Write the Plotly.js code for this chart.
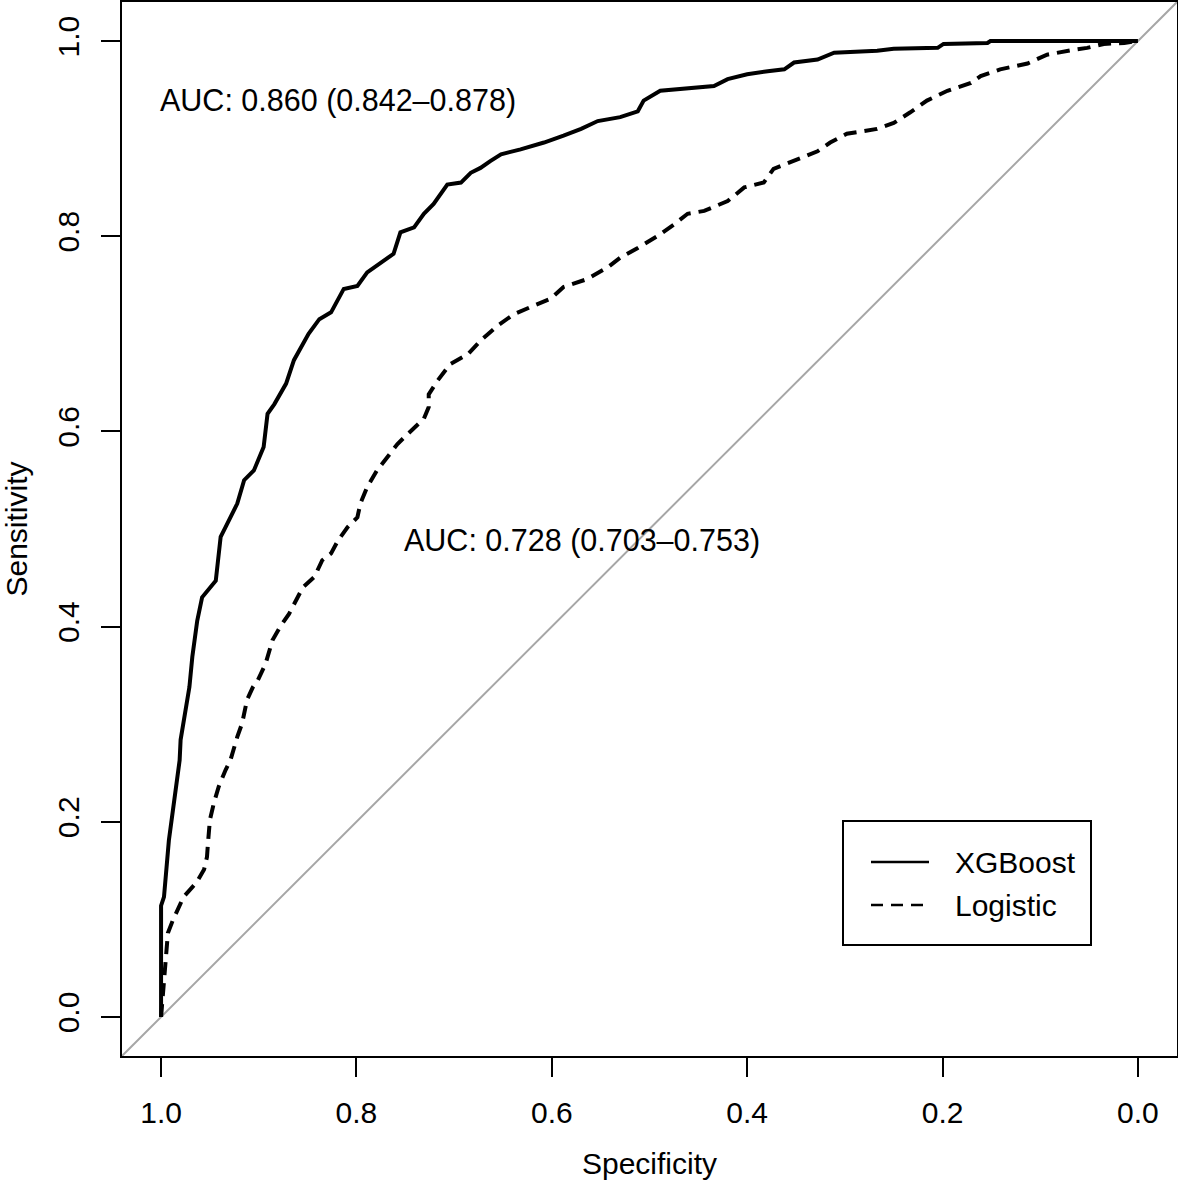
<!DOCTYPE html>
<html>
<head>
<meta charset="utf-8">
<script src="https://cdn.plot.ly/plotly-3.0.1.min.js"></script>
<style>html,body{margin:0;padding:0;background:#fff;}#chart{width:1178px;height:1184px;}</style>
</head>
<body>
<div id="chart"></div>
<script>
// ROC curve data (specificity, sensitivity)
const xgbSpec = [1.000,1.000,0.997,0.992,0.981,0.980,0.971,0.968,0.963,0.958,0.944,0.939,0.934,0.922,0.915,0.905,0.895,0.891,0.884,0.872,0.864,0.857,0.849,0.838,0.826,0.813,0.799,0.789,0.772,0.762,0.755,0.741,0.731,0.721,0.707,0.693,0.683,0.673,0.663,0.652,0.632,0.608,0.588,0.570,0.553,0.530,0.512,0.506,0.489,0.461,0.434,0.420,0.400,0.379,0.362,0.352,0.328,0.311,0.267,0.250,0.205,0.199,0.154,0.151,0.000];
const xgbSens = [0.000,0.114,0.123,0.181,0.263,0.284,0.338,0.369,0.406,0.430,0.447,0.492,0.502,0.526,0.550,0.560,0.584,0.618,0.628,0.649,0.673,0.686,0.700,0.715,0.722,0.746,0.749,0.763,0.775,0.782,0.804,0.809,0.823,0.833,0.853,0.855,0.865,0.870,0.877,0.884,0.889,0.896,0.903,0.910,0.918,0.922,0.928,0.939,0.949,0.952,0.954,0.961,0.966,0.969,0.971,0.978,0.981,0.988,0.990,0.992,0.993,0.997,0.998,1.000,1.000];

const logSpec = [1.000,0.997,0.995,0.993,0.988,0.982,0.977,0.968,0.963,0.956,0.953,0.952,0.950,0.946,0.941,0.934,0.929,0.922,0.917,0.912,0.906,0.901,0.893,0.886,0.878,0.869,0.862,0.855,0.843,0.835,0.826,0.819,0.809,0.799,0.796,0.789,0.779,0.768,0.758,0.751,0.741,0.731,0.726,0.726,0.717,0.704,0.686,0.673,0.656,0.639,0.618,0.601,0.588,0.564,0.543,0.530,0.512,0.492,0.475,0.461,0.444,0.420,0.403,0.383,0.373,0.352,0.328,0.315,0.298,0.267,0.250,0.233,0.216,0.195,0.171,0.161,0.141,0.113,0.093,0.066,0.052,0.035,0.014,0.000];
const logSens = [0.000,0.038,0.065,0.086,0.099,0.113,0.123,0.133,0.139,0.151,0.164,0.178,0.202,0.219,0.236,0.253,0.263,0.287,0.301,0.325,0.338,0.345,0.362,0.386,0.400,0.413,0.427,0.440,0.451,0.468,0.475,0.488,0.502,0.512,0.526,0.543,0.560,0.574,0.587,0.594,0.604,0.613,0.625,0.638,0.652,0.669,0.679,0.693,0.708,0.720,0.729,0.736,0.748,0.756,0.768,0.778,0.788,0.800,0.812,0.823,0.826,0.836,0.850,0.855,0.869,0.877,0.887,0.896,0.905,0.910,0.916,0.927,0.939,0.949,0.957,0.964,0.971,0.977,0.986,0.991,0.993,0.997,0.998,1.000];

const seriesNames = ["XGBoost", "Logistic"];
const seriesDash = ["solid", "13px,8px"];
const aucLabels = ["AUC: 0.860 (0.842\u20130.878)", "AUC: 0.728 (0.703\u20130.753)"];
const aucPosSpec = [1.0, 0.75];
const aucPosSens = [0.939, 0.488];
const xTickVals = [1.0, 0.8, 0.6, 0.4, 0.2, 0.0];
const xTickText = ["1.0", "0.8", "0.6", "0.4", "0.2", "0.0"];
const yTickVals = [0.0, 0.2, 0.4, 0.6, 0.8, 1.0];
const yTickText = ["0.0", "0.2", "0.4", "0.6", "0.8", "1.0"];
const xRange = [1.04, -0.04];
const yRange = [-0.04, 1.04];

const FONT = "Liberation Sans, Arial, Helvetica, sans-serif";
const FS = 30;

const W = 1178, H = 1184;
const M = {l: 122, r: 1, t: 2, b: 128};
const PW = W - M.l - M.r, PH = H - M.t - M.b;
const px2x = p => (p - M.l) / PW;
const px2y = p => 1 - (p - M.t) / PH;

const diagX = [xRange[0], xRange[1]];
const diagY = diagX.map(v => 1 - v);

const traces = [
  {x: diagX, y: diagY, mode: "lines", line: {color: "#a6a6a6", width: 2}, showlegend: false, hoverinfo: "skip"},
  {x: xgbSpec, y: xgbSens, mode: "lines", name: seriesNames[0], line: {color: "#000", width: 4, dash: seriesDash[0]}, showlegend: false},
  {x: logSpec, y: logSens, mode: "lines", name: seriesNames[1], line: {color: "#000", width: 4, dash: seriesDash[1]}, showlegend: false}
];

const annotations = aucLabels.map((t, i) => ({
  x: aucPosSpec[i], y: aucPosSens[i], xref: "x", yref: "y", text: t, showarrow: false,
  xanchor: "left", yanchor: "middle", xshift: -3, font: {family: FONT, size: 30.5, color: "#000"}
}));

// legend box (drawn as shapes + annotations to match R's legend layout)
const legRowY = [862, 905];
const shapes = [
  {type: "rect", xref: "paper", yref: "paper", x0: px2x(843), x1: px2x(1091), y0: px2y(945), y1: px2y(821),
   line: {color: "#000", width: 2}, fillcolor: "#fff", layer: "above"}
];
seriesNames.forEach((n, i) => {
  shapes.push({type: "line", xref: "paper", yref: "paper", x0: px2x(871), x1: px2x(929), y0: px2y(legRowY[i]), y1: px2y(legRowY[i]),
    line: {color: "#000", width: 2.5, dash: i === 0 ? "solid" : "12px,8px"}, layer: "above"});
  annotations.push({x: px2x(953), y: px2y(legRowY[i]), xref: "paper", yref: "paper", text: n, showarrow: false,
    xanchor: "left", yanchor: "middle", font: {family: FONT, size: FS, color: "#000"}});
});

const layout = {
  width: W, height: H,
  margin: {l: M.l, r: M.r, t: M.t, b: M.b, pad: 0},
  paper_bgcolor: "#fff", plot_bgcolor: "#fff",
  font: {family: FONT, size: FS, color: "#000"},
  showlegend: false,
  xaxis: {
    range: xRange, autorange: false,
    tickvals: xTickVals, ticktext: xTickText,
    ticks: "outside", ticklen: 19, tickwidth: 2, tickcolor: "#000",
    ticklabelstandoff: 10,
    showline: true, mirror: true, linecolor: "#000", linewidth: 2,
    showgrid: false, zeroline: false,
    tickfont: {family: FONT, size: FS},
    title: {text: "Specificity", font: {family: FONT, size: FS}, standoff: 25}
  },
  yaxis: {
    range: yRange, autorange: false,
    tickvals: yTickVals, ticktext: yTickText,
    ticks: "outside", ticklen: 19, tickwidth: 2, tickcolor: "#000",
    tickangle: -90, ticklabelstandoff: 10,
    showline: true, mirror: true, linecolor: "#000", linewidth: 2,
    showgrid: false, zeroline: false,
    tickfont: {family: FONT, size: FS},
    title: {text: "Sensitivity", font: {family: FONT, size: FS}, standoff: 18}
  },
  shapes: shapes,
  annotations: annotations
};

Plotly.newPlot("chart", traces, layout, {displayModeBar: false, staticPlot: true});
</script>
</body>
</html>
